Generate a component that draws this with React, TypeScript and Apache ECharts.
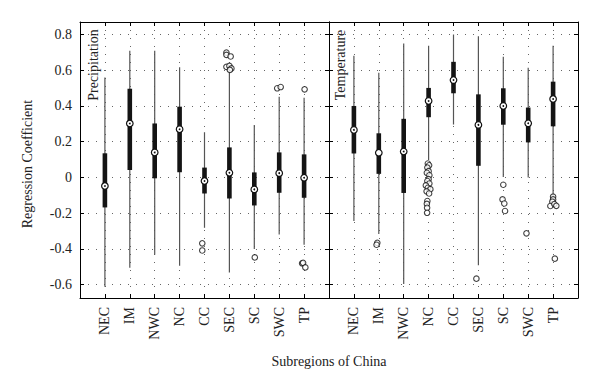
import React, { useEffect, useRef } from "react";
import * as echarts from "echarts";

const categories = ["NEC", "IM", "NWC", "NC", "CC", "SEC", "SC", "SWC", "TP"];
const yTickValues = [-0.6, -0.4, -0.2, 0, 0.2, 0.4, 0.6, 0.8];

// [min whisker, q1, median, q3, max whisker]
const precipBoxes = [
  [-0.612, -0.168, -0.048, 0.135, 0.56],
  [-0.505, 0.042, 0.302, 0.497, 0.709],
  [-0.433, -0.005, 0.14, 0.302, 0.709],
  [-0.494, 0.029, 0.27, 0.396, 0.616],
  [-0.282, -0.09, -0.02, 0.055, 0.253],
  [-0.532, -0.118, 0.026, 0.168, 0.593],
  [-0.401, -0.157, -0.067, 0.028, 0.294],
  [-0.319, -0.086, 0.024, 0.14, 0.452],
  [-0.377, -0.114, -0.002, 0.129, 0.446],
];

const tempBoxes = [
  [-0.244, 0.134, 0.266, 0.4, 0.681],
  [-0.317, 0.02, 0.138, 0.247, 0.586],
  [-0.597, -0.087, 0.145, 0.328, 0.75],
  [0.097, 0.337, 0.428, 0.501, 0.737],
  [0.296, 0.471, 0.545, 0.647, 0.8],
  [-0.491, 0.065, 0.294, 0.465, 0.79],
  [0.002, 0.295, 0.4, 0.499, 0.675],
  [0.0, 0.196, 0.303, 0.391, 0.614],
  [-0.104, 0.286, 0.439, 0.536, 0.737],
];

// [category number (1-based), value, horizontal jitter]
const precipOutliers = [
  [5, -0.369, -0.09], [5, -0.409, -0.09],
  [6, 0.699, -0.12], [6, 0.686, -0.12], [6, 0.677, 0.05],
  [6, 0.619, -0.12], [6, 0.624, 0.0], [6, 0.61, 0.08], [6, 0.602, 0.02],
  [7, -0.448, 0.02],
  [8, 0.499, -0.08], [8, 0.506, 0.06],
  [9, 0.493, 0.02], [9, -0.481, -0.08], [9, -0.478, -0.04], [9, -0.504, 0.05],
];

const tempOutliers = [
  [2, -0.366, -0.06], [2, -0.377, -0.09],
  [4, 0.078, -0.03], [4, 0.068, 0.02], [4, 0.055, -0.05], [4, 0.035, 0.0],
  [4, 0.026, -0.07], [4, 0.012, 0.03], [4, -0.01, 0.0], [4, -0.02, -0.05],
  [4, -0.034, 0.03], [4, -0.045, -0.11], [4, -0.058, -0.03], [4, -0.066, 0.07],
  [4, -0.078, -0.08], [4, -0.09, 0.02], [4, -0.132, -0.05], [4, -0.148, -0.07],
  [4, -0.17, -0.06], [4, -0.198, -0.06],
  [6, -0.567, -0.08],
  [7, -0.041, 0.0], [7, -0.123, -0.03], [7, -0.146, 0.04], [7, -0.188, 0.07],
  [8, -0.313, -0.07],
  [9, -0.108, 0.0], [9, -0.123, 0.0], [9, -0.136, -0.03], [9, -0.16, -0.11],
  [9, -0.149, 0.05], [9, -0.159, 0.13], [9, -0.455, 0.07],
];

const panelTitles = ["Precipitation", "Temperature"];
const yAxisTitle = "Regression Coefficient";
const xAxisTitle = "Subregions of China";

const FONT = "'Liberation Serif', 'DejaVu Serif', serif";
const TEXT = "#222";

export default function App() {
  const ref = useRef<HTMLDivElement>(null);

  useEffect(() => {
    if (!ref.current) return;
    const chart = echarts.init(ref.current, undefined, { renderer: "svg" });

    const dotted = { type: [1, 7] as any, color: "#666", width: 1 };

    const bottomX = (gi: number) => ({
      type: "value",
      gridIndex: gi,
      position: "bottom",
      min: 0,
      max: 10,
      interval: 1,
      axisLine: { show: true, onZero: false, lineStyle: { color: "#000", width: 1 } },
      axisTick: { show: true, inside: true, length: 4, lineStyle: { color: "#000" } },
      axisLabel: {
        rotate: 90,
        margin: 9,
        fontFamily: FONT,
        fontSize: 14,
        color: TEXT,
        showMinLabel: false,
        showMaxLabel: false,
        formatter: (v: number) => categories[Math.round(v) - 1] || "",
      },
      splitLine: { show: true, lineStyle: dotted },
    });
    const topX = (gi: number) => ({
      type: "value",
      gridIndex: gi,
      position: "top",
      min: 0,
      max: 10,
      interval: 1,
      axisLine: { show: true, onZero: false, lineStyle: { color: "#000", width: 1 } },
      axisTick: { show: true, inside: true, length: 4, lineStyle: { color: "#000" } },
      axisLabel: { show: false },
      splitLine: { show: false },
    });
    const yAx = (gi: number, pos: string, labels: boolean, split: boolean) => ({
      type: "value",
      gridIndex: gi,
      position: pos,
      min: -0.675,
      max: 0.87,
      splitNumber: 8,
      axisLine: { show: true, onZero: false, lineStyle: { color: "#000", width: 1 } },
      axisTick: { show: true, inside: true, length: 4, lineStyle: { color: "#000" } },
      axisLabel: {
        show: labels,
        margin: 8,
        fontFamily: FONT,
        fontSize: 14,
        color: TEXT,
        showMinLabel: false,
        showMaxLabel: false,
        formatter: (v: number) => {
          const t = yTickValues.find((y) => Math.abs(y - v) < 1e-6);
          return t === undefined ? "" : String(t);
        },
      },
      splitLine: { show: split, lineStyle: dotted },
    });

    const renderBox = (params: any, api: any) => {
      const x = api.value(0);
      const pMin = api.coord([x, api.value(1)]);
      const pQ1 = api.coord([x, api.value(2)]);
      const pMed = api.coord([x, api.value(3)]);
      const pQ3 = api.coord([x, api.value(4)]);
      const pMax = api.coord([x, api.value(5)]);
      return {
        type: "group",
        children: [
          {
            type: "line",
            shape: { x1: pMin[0], y1: pMin[1], x2: pMax[0], y2: pMax[1] },
            style: { stroke: "#555", lineWidth: 1.2 },
          },
          {
            type: "rect",
            shape: { x: pQ3[0] - 2.3, y: pQ3[1], width: 4.6, height: pQ1[1] - pQ3[1] },
            style: { fill: "#141414" },
          },
          {
            type: "circle",
            shape: { cx: pMed[0], cy: pMed[1], r: 3.3 },
            style: { fill: "#fff", stroke: "#111", lineWidth: 1.2 },
          },
          {
            type: "circle",
            shape: { cx: pMed[0], cy: pMed[1], r: 0.9 },
            style: { fill: "#111" },
          },
        ],
      };
    };

    const boxSeries = (boxes: number[][], xi: number, yi: number) => ({
      type: "custom",
      xAxisIndex: xi,
      yAxisIndex: yi,
      renderItem: renderBox,
      encode: { x: 0, y: [1, 2, 3, 4, 5] },
      data: boxes.map((b, i) => [i + 1, ...b]),
      z: 3,
    });
    const outlierSeries = (outs: number[][], xi: number, yi: number) => ({
      type: "scatter",
      xAxisIndex: xi,
      yAxisIndex: yi,
      symbol: "circle",
      symbolSize: 5.5,
      itemStyle: { color: "#fff", borderColor: "#111", borderWidth: 1.1 },
      data: outs.map((o) => [o[0] + o[2], o[1]]),
      z: 4,
    });

    const option: any = {
      animation: false,
      backgroundColor: "#fff",
      grid: [
        { left: 80, top: 22, width: 249, height: 276 },
        { left: 329, top: 22, width: 249, height: 276 },
      ],
      xAxis: [bottomX(0), topX(0), bottomX(1), topX(1)],
      yAxis: [
        yAx(0, "left", true, true),
        yAx(0, "right", false, false),
        yAx(1, "left", false, true),
        yAx(1, "right", false, false),
      ],
      series: [
        boxSeries(precipBoxes, 0, 0),
        outlierSeries(precipOutliers, 0, 0),
        boxSeries(tempBoxes, 2, 2),
        outlierSeries(tempOutliers, 2, 2),
      ],
      graphic: [
        {
          type: "text",
          x: 93,
          y: 65,
          rotation: Math.PI / 2,
          style: {
            text: panelTitles[0],
            fontFamily: FONT,
            fontSize: 14,
            fill: TEXT,
            align: "center",
            verticalAlign: "middle",
          },
        },
        {
          type: "text",
          x: 340,
          y: 65,
          rotation: Math.PI / 2,
          style: {
            text: panelTitles[1],
            fontFamily: FONT,
            fontSize: 14,
            fill: TEXT,
            align: "center",
            verticalAlign: "middle",
          },
        },
        {
          type: "text",
          x: 27,
          y: 164,
          rotation: Math.PI / 2,
          style: {
            text: yAxisTitle,
            fontFamily: FONT,
            fontSize: 14,
            fill: TEXT,
            align: "center",
            verticalAlign: "middle",
          },
        },
        {
          type: "text",
          x: 329,
          y: 361,
          style: {
            text: xAxisTitle,
            fontFamily: FONT,
            fontSize: 14,
            fill: TEXT,
            align: "center",
            verticalAlign: "middle",
          },
        },
      ],
    };

    chart.setOption(option);
    return () => chart.dispose();
  }, []);

  return (
    <div
      ref={ref}
      style={{ position: "fixed", left: 0, top: 0, width: 600, height: 390 }}
    />
  );
}
